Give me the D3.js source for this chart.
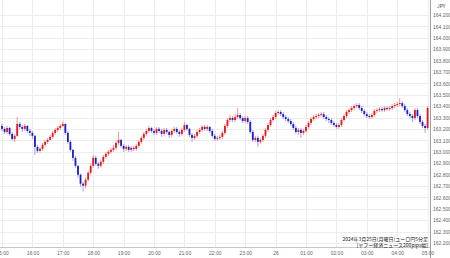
<!DOCTYPE html>
<html>
<head>
<meta charset="utf-8">
<script src="https://cdn.jsdelivr.net/npm/d3@7"></script>
<style>
  html, body { margin: 0; padding: 0; background: #fff; }
  svg { display: block; font-family: "Noto Sans CJK JP", "Noto Sans", sans-serif; }
</style>
</head>
<body>
<svg id="chart" width="450" height="258"></svg>
<script>
// EUR/JPY 5 min candles, 2024-03-25 15:00 -> 03-26 05:00
const firstOpen = 163.227
const closes = [
  163.201, 163.174, 163.209, 163.157, 163.113, 163.140, 163.244, 163.218, 163.201, 163.227, 163.183, 163.166,
  163.140, 163.043, 163.008, 163.026, 163.061, 163.087, 163.104, 163.131, 163.166, 163.192, 163.209, 163.227,
  163.244, 163.166, 163.087, 163.017, 162.947, 162.877, 162.799, 162.720, 162.703, 162.755, 162.816, 162.877,
  162.947, 162.895, 162.877, 162.912, 162.956, 162.982, 163.000, 163.017, 163.035, 163.078, 163.104, 163.052,
  163.026, 163.043, 163.017, 163.035, 163.026, 163.052, 163.087, 163.122, 163.157, 163.183, 163.209, 163.183,
  163.166, 163.201, 163.183, 163.157, 163.192, 163.174, 163.148, 163.183, 163.201, 163.174, 163.157, 163.192,
  163.235, 163.201, 163.148, 163.122, 163.140, 163.174, 163.192, 163.218, 163.201, 163.218, 163.183, 163.140,
  163.113, 163.122, 163.131, 163.166, 163.227, 163.279, 163.296, 163.279, 163.305, 163.323, 163.296, 163.270,
  163.296, 163.262, 163.174, 163.104, 163.122, 163.087, 163.104, 163.140, 163.192, 163.235, 163.279, 163.305,
  163.340, 163.349, 163.331, 163.305, 163.288, 163.270, 163.244, 163.209, 163.174, 163.192, 163.166, 163.183,
  163.218, 163.253, 163.288, 163.305, 163.314, 163.323, 163.331, 163.305, 163.288, 163.279, 163.253, 163.235,
  163.218, 163.235, 163.279, 163.314, 163.349, 163.366, 163.384, 163.401, 163.410, 163.384, 163.358, 163.331,
  163.314, 163.305, 163.323, 163.358, 163.366, 163.375, 163.366, 163.384, 163.375, 163.384, 163.401, 163.410,
  163.419, 163.427, 163.401, 163.366, 163.331, 163.314, 163.296, 163.366, 163.314, 163.262, 163.227, 163.209,
  163.384
]
const highs = [
  163.244, 163.218, 163.227, 163.218, 163.174, 163.157, 163.305, 163.262, 163.235, 163.244, 163.235, 163.201,
  163.183, 163.148, 163.061, 163.043, 163.078, 163.104, 163.122, 163.148, 163.183, 163.209, 163.227, 163.244,
  163.270, 163.253, 163.183, 163.104, 163.026, 162.965, 162.886, 162.808, 162.738, 162.773, 162.834, 162.895,
  162.973, 162.965, 162.912, 162.930, 162.973, 163.000, 163.017, 163.035, 163.061, 163.096, 163.174, 163.113,
  163.069, 163.061, 163.061, 163.052, 163.052, 163.069, 163.104, 163.140, 163.174, 163.201, 163.227, 163.218,
  163.201, 163.218, 163.218, 163.201, 163.209, 163.209, 163.183, 163.201, 163.218, 163.218, 163.192, 163.209,
  163.262, 163.244, 163.209, 163.166, 163.157, 163.192, 163.209, 163.235, 163.235, 163.235, 163.227, 163.201,
  163.157, 163.140, 163.148, 163.183, 163.244, 163.296, 163.323, 163.314, 163.331, 163.384, 163.340, 163.314,
  163.314, 163.314, 163.279, 163.192, 163.140, 163.140, 163.122, 163.157, 163.209, 163.253, 163.296, 163.323,
  163.358, 163.366, 163.366, 163.349, 163.323, 163.305, 163.288, 163.262, 163.227, 163.209, 163.209, 163.201,
  163.235, 163.270, 163.305, 163.323, 163.331, 163.340, 163.349, 163.349, 163.323, 163.305, 163.296, 163.270,
  163.253, 163.253, 163.296, 163.331, 163.366, 163.384, 163.401, 163.419, 163.427, 163.427, 163.401, 163.375,
  163.349, 163.331, 163.340, 163.375, 163.384, 163.393, 163.393, 163.401, 163.401, 163.401, 163.419, 163.427,
  163.436, 163.471, 163.445, 163.419, 163.384, 163.349, 163.331, 163.384, 163.384, 163.331, 163.279, 163.244,
  163.401
]
const lows = [
  163.183, 163.157, 163.157, 163.140, 163.096, 163.087, 163.131, 163.201, 163.174, 163.183, 163.166, 163.140,
  163.113, 162.973, 162.991, 162.991, 163.008, 163.043, 163.069, 163.096, 163.113, 163.148, 163.174, 163.192,
  163.218, 163.148, 163.069, 163.000, 162.921, 162.860, 162.773, 162.694, 162.651, 162.677, 162.738, 162.799,
  162.860, 162.877, 162.851, 162.860, 162.895, 162.939, 162.965, 162.982, 163.000, 163.017, 163.061, 163.035,
  163.000, 163.008, 163.000, 163.000, 163.008, 163.008, 163.035, 163.069, 163.104, 163.140, 163.166, 163.166,
  163.148, 163.148, 163.166, 163.131, 163.140, 163.157, 163.122, 163.131, 163.166, 163.157, 163.131, 163.140,
  163.174, 163.183, 163.131, 163.087, 163.104, 163.122, 163.157, 163.174, 163.183, 163.183, 163.166, 163.122,
  163.096, 163.096, 163.104, 163.113, 163.148, 163.209, 163.262, 163.262, 163.262, 163.288, 163.279, 163.253,
  163.253, 163.244, 163.157, 163.087, 163.087, 163.043, 163.069, 163.087, 163.122, 163.174, 163.218, 163.262,
  163.288, 163.323, 163.314, 163.288, 163.270, 163.253, 163.227, 163.192, 163.157, 163.148, 163.122, 163.148,
  163.166, 163.201, 163.235, 163.270, 163.288, 163.296, 163.305, 163.288, 163.270, 163.253, 163.235, 163.218,
  163.201, 163.201, 163.218, 163.262, 163.296, 163.331, 163.349, 163.366, 163.384, 163.366, 163.340, 163.314,
  163.296, 163.288, 163.288, 163.305, 163.340, 163.349, 163.349, 163.349, 163.358, 163.358, 163.366, 163.384,
  163.393, 163.401, 163.384, 163.349, 163.314, 163.296, 163.262, 163.279, 163.296, 163.244, 163.209, 163.166,
  163.192
]
const priceTicks = [
  164.2, 164.1, 164.0, 163.9, 163.8, 163.7, 163.6, 163.5, 163.4, 163.3, 163.2,
  163.1, 163.0, 162.9, 162.8, 162.7, 162.6, 162.5, 162.4, 162.3, 162.2
]
const timeTickLabels = ["15:00", "16:00", "17:00", "18:00", "19:00", "20:00", "21:00", "22:00",
  "23:00", "26", "01:00", "02:00", "03:00", "04:00", "05:00"]
const unitLabel = "JPY"
const titleLines = ["2024年3月25日(月曜日)ユーロ円5分足", "[ヤフー経済ニュース200pips幅]"]

const width = 450
const height = 258
const plotRight = 430
const plotBottom = 247

const start = new Date(2024, 2, 25, 15, 0)
const candles = closes.map((c, i) => ({
  t: d3.timeMinute.offset(start, i * 5),
  o: i === 0 ? firstOpen : closes[i - 1],
  c: c,
  h: highs[i],
  l: lows[i]
}))
const hourTicks = timeTickLabels.map((d, i) => d3.timeHour.offset(start, i))

const x = d3.scaleTime()
  .domain([start, d3.timeHour.offset(start, 14)])
  .range([2, 427.6])
const y = d3.scaleLinear()
  .domain([162.2, 164.2])
  .range([243, 15])

const svg = d3.select('#chart')

svg.append('rect').attr('width', width).attr('height', height).attr('fill', '#fff')

// grid
svg.append('g')
  .selectAll('line')
  .data(priceTicks)
  .join('line')
  .attr('x1', 0).attr('x2', plotRight)
  .attr('y1', d => Math.round(y(d)) + 0.5)
  .attr('y2', d => Math.round(y(d)) + 0.5)
  .attr('stroke', '#ececec')

svg.append('g')
  .selectAll('line')
  .data(hourTicks)
  .join('line')
  .attr('x1', d => Math.round(x(d)) + 0.5)
  .attr('x2', d => Math.round(x(d)) + 0.5)
  .attr('y1', 0).attr('y2', plotBottom)
  .attr('stroke', '#ececec')

// candles
const bw = 1.8
const g = svg.append('g')
g.selectAll('line')
  .data(candles)
  .join('line')
  .attr('x1', d => x(d.t)).attr('x2', d => x(d.t))
  .attr('y1', d => y(d.h)).attr('y2', d => y(d.l))
  .attr('stroke', d => d.c >= d.o ? '#f07a7a' : '#8a8ae8')
  .attr('stroke-width', 0.8)

g.selectAll('rect')
  .data(candles)
  .join('rect')
  .attr('x', d => x(d.t) - bw / 2)
  .attr('width', bw)
  .attr('y', d => y(Math.max(d.o, d.c)))
  .attr('height', d => Math.max(0.8, Math.abs(y(d.o) - y(d.c))))
  .attr('fill', d => d.c >= d.o ? '#e3161b' : '#1c1ccf')

// frame
svg.append('line')
  .attr('x1', plotRight + 0.5).attr('x2', plotRight + 0.5)
  .attr('y1', 0).attr('y2', height)
  .attr('stroke', '#a0a0a0')
svg.append('line')
  .attr('x1', 0).attr('x2', plotRight)
  .attr('y1', plotBottom + 0.5).attr('y2', plotBottom + 0.5)
  .attr('stroke', '#c8c8c8')

// right price axis
const yAxis = svg.append('g')
  .attr('transform', `translate(${plotRight + 2}, 0)`)
  .call(d3.axisRight(y).tickValues(priceTicks).tickFormat(d3.format('.3f')).tickSize(0).tickPadding(1))
yAxis.select('.domain').remove()
yAxis.selectAll('text').attr('font-size', 5).attr('fill', '#666')

svg.append('text')
  .attr('x', 437).attr('y', 7.5)
  .attr('font-size', 5).attr('fill', '#444')
  .text(unitLabel)

// time axis
const xAxis = svg.append('g')
  .attr('transform', `translate(0, ${plotBottom + 3})`)
  .call(d3.axisBottom(x).tickValues(hourTicks).tickFormat((d, i) => timeTickLabels[i]).tickSize(0).tickPadding(1))
xAxis.select('.domain').remove()
xAxis.selectAll('text').attr('font-size', 5).attr('fill', '#666')

// caption
svg.append('g')
  .selectAll('text')
  .data(titleLines)
  .join('text')
  .attr('x', 428)
  .attr('y', (d, i) => 241 + i * 5.5)
  .attr('text-anchor', 'end')
  .attr('font-size', 5)
  .attr('fill', '#222')
  .text(d => d)
</script>
</body>
</html>
